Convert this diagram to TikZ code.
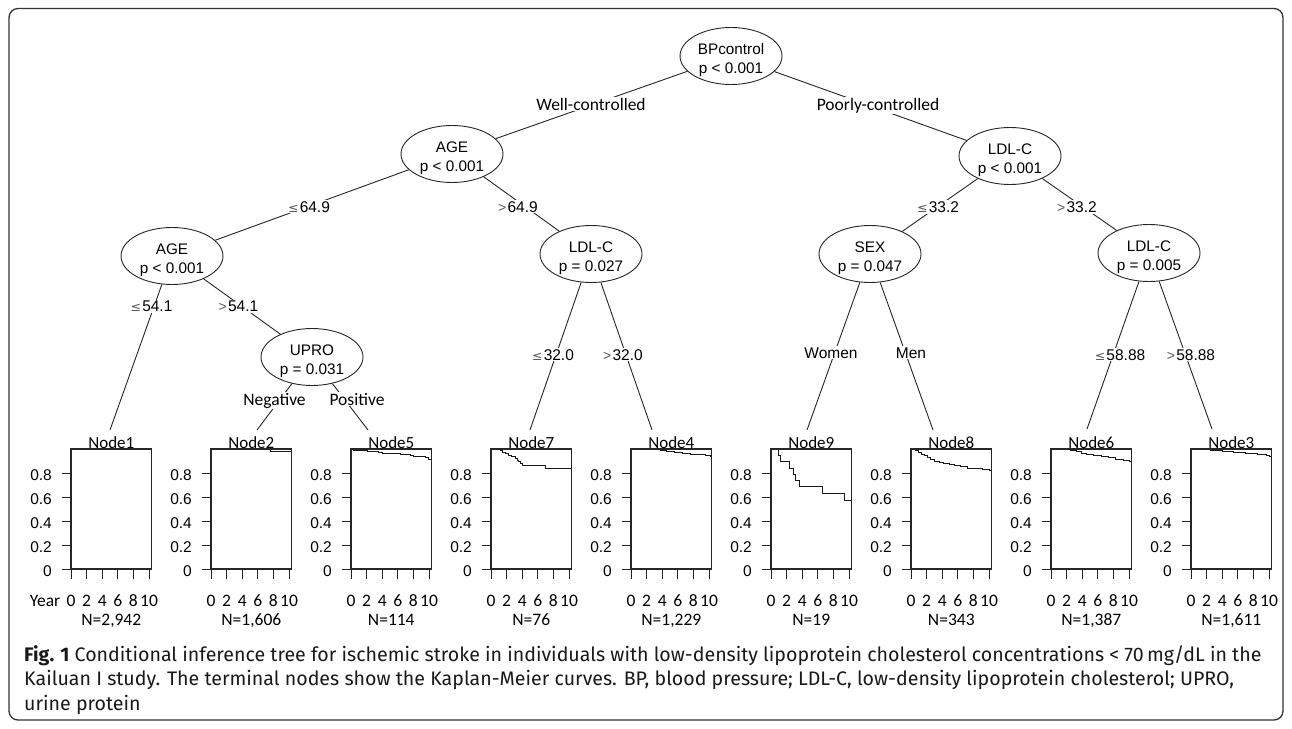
\documentclass[tikz,border=0pt]{standalone}
\usepackage{fontspec}
\setmainfont{Liberation Sans}
\newfontfamily\calfont{Carlito}
\newfontfamily\capfont{Fira Sans}
\newfontfamily\symfont{DejaVu Sans}
\usetikzlibrary{shapes.geometric}

\newcommand{\lesym}{{\color{black!65}\symfont\fontsize{12.5}{12.5}\selectfont ≤}\kern1.2pt}
\newcommand{\gtsym}{{\color{black!65}\fontsize{14}{14}\selectfont >}\kern1.2pt}

\tikzset{
  ln/.style={draw=black!85, line width=0.9pt},
  split/.style={ellipse, ln, minimum width=102pt, minimum height=57pt, inner sep=0pt},
  stext/.style={align=center, inner sep=0pt, font=\fontsize{15.3}{19}\selectfont},
  edge/.style={ln},
  alab/.style={fill=white, inner sep=1.2pt, anchor=base, font=\fontsize{15.5}{18}\selectfont},
  clab/.style={fill=white, inner sep=1.2pt, anchor=base, font=\calfont\fontsize{17.5}{20}\selectfont},
  kmbox/.style={draw=black!85, line width=1.1pt},
  kmtick/.style={draw=black!85, line width=0.9pt},
  kmcurve/.style={draw=black!90, line width=0.9pt},
  ylab/.style={anchor=east, inner sep=0pt, xshift=-19pt, yshift=-2.5pt, font=\fontsize{15.5}{18}\selectfont},
  xlab/.style={anchor=base, inner sep=0pt, yshift=-37.7pt, font=\calfont\fontsize{17.5}{20}\selectfont},
  ntitle/.style={anchor=base, inner sep=0pt, yshift=1pt, font=\calfont\fontsize{17}{20}\selectfont},
  nlab/.style={anchor=base, inner sep=0pt, yshift=-56pt, font=\calfont\fontsize{17.5}{20}\selectfont},
  captxt/.style={anchor=base west, inner sep=0pt, font=\capfont\fontsize{19.6}{24}\selectfont, text=black!90},
}

\newcommand{\kmpanel}[4]{%
  \begin{scope}[xshift=#1pt, yshift=-569pt, x=7.8pt, y=120pt]
    \draw[kmcurve] plot[const plot] coordinates {#4};
    \draw[kmbox] (0,0) rectangle (10.33,1);
    \foreach \sv [count=\iv] in {0,0.2,0.4,0.6,0.8}{%
      \draw[kmtick] (0,\sv) -- ++(-9pt,0pt);
      \node[ylab] (y#2-\iv) at (0,\sv) {\sv};}
    \foreach \tv in {0,2,4,6,8,10}{%
      \draw[kmtick] (\tv,0) -- ++(0pt,-10pt);
      \node[xlab] (x#2-\tv) at (\tv,0) {\tv};}
    \node[ntitle] (Node#2) at (5.165,1) {Node#2};
    \node[nlab] (n#2) at (5.165,0) {N=#3};
  \end{scope}}

\begin{document}
\begin{tikzpicture}[x=1pt,y=-1pt]
\useasboundingbox (0,0) rectangle (1292,728);
\fill[white] (0,0) rectangle (1292,728);
\draw[draw=black!80, line width=1.3pt, rounded corners=9pt] (9,8.5) rectangle (1283,720);

% split nodes
\node[split] (bp)   at (731,56)  {};
\node[split] (age1) at (452,154) {};
\node[split] (ldl1) at (1010,156) {};
\node[split] (age2) at (172,256) {};
\node[split] (ldl2) at (591,254) {};
\node[split] (sex)  at (870,254) {};
\node[split] (ldl3) at (1149,253) {};
\node[split] (upro) at (312,357) {};

\node[stext] (bpt)   at (731,60)  {BPcontrol\\p < 0.001};
\node[stext] (age1t) at (452,158) {AGE\\p < 0.001};
\node[stext] (ldl1t) at (1010,160) {LDL-C\\p < 0.001};
\node[stext] (age2t) at (172,260) {AGE\\p < 0.001};
\node[stext] (ldl2t) at (591,258) {LDL-C\\p = 0.027};
\node[stext] (sext)  at (870,258) {SEX\\p = 0.047};
\node[stext] (ldl3t) at (1149,257) {LDL-C\\p = 0.005};
\node[stext] (uprot) at (312,361) {UPRO\\p = 0.031};

% terminal attachment points
\coordinate (t1) at (110,430);
\coordinate (t2) at (257,430);
\coordinate (t5) at (368,430);
\coordinate (t7) at (530,430);
\coordinate (t4) at (652,430);
\coordinate (t9) at (807,430);
\coordinate (t8) at (933,430);
\coordinate (t6) at (1087,429);
\coordinate (t3) at (1212,429);

% edges
\draw[edge] (bp) -- (age1);
\draw[edge] (bp) -- (ldl1);
\draw[edge] (age1) -- (age2);
\draw[edge] (age1) -- (ldl2);
\draw[edge] (ldl1) -- (sex);
\draw[edge] (ldl1) -- (ldl3);
\draw[edge] (age2) -- (t1);
\draw[edge] (age2) -- (upro);
\draw[edge] (upro) -- (t2);
\draw[edge] (upro) -- (t5);
\draw[edge] (ldl2) -- (t7);
\draw[edge] (ldl2) -- (t4);
\draw[edge] (sex) -- (t9);
\draw[edge] (sex) -- (t8);
\draw[edge] (ldl3) -- (t6);
\draw[edge] (ldl3) -- (t3);

% edge labels
\node[clab] (wc) at (591,110) {Well-controlled};
\node[clab] (pc) at (878,110) {Poorly-controlled};
\node[alab] (l1) at (309,212) {\lesym 64.9};
\node[alab] (l2) at (518,212) {\gtsym 64.9};
\node[alab] (l3) at (938,212.5) {\lesym 33.2};
\node[alab] (l4) at (1077,212.5) {\gtsym 33.2};
\node[alab] (l5) at (151.5,311.5) {\lesym 54.1};
\node[alab] (l6) at (238.5,311.5) {\gtsym 54.1};
\node[clab] (l7) at (274.5,405) {Negative};
\node[clab] (l8) at (357,405) {Positive};
\node[alab] (l9) at (553,360) {\lesym 32.0};
\node[alab] (l10) at (623,360) {\gtsym 32.0};
\node[alab] (l11) at (831,358) {Women};
\node[alab] (l12) at (911,358) {Men};
\node[alab] (l13) at (1120,360) {\lesym 58.88};
\node[alab] (l14) at (1191,360) {\gtsym 58.88};

% terminal Kaplan-Meier panels
\kmpanel{71}{1}{2,942}{(0,1) (10.3,0.982) (10.33,0.982)}
\kmpanel{211}{2}{1,606}{(0,1) (3.9,0.994) (7.6,0.982) (10.3,0.967) (10.33,0.967)}
\kmpanel{351}{5}{114}{(0,1) (0.3,0.992) (2.05,0.983) (3.55,0.972) (3.97,0.964) (6.28,0.956) (7.56,0.948) (7.95,0.939) (9.49,0.931) (9.96,0.917) (10.33,0.917)}
\kmpanel{491}{7}{76}{(0,1) (1.2,0.985) (1.45,0.974) (1.85,0.962) (2.2,0.95) (2.6,0.936) (3.1,0.922) (3.35,0.908) (3.55,0.894) (3.8,0.881) (4.0,0.867) (7.0,0.84) (10.33,0.84)}
\kmpanel{631}{4}{1,229}{(0,1) (2.1,0.996) (3.8,0.985) (4.6,0.978) (5.6,0.972) (6.6,0.965) (7.6,0.958) (8.6,0.952) (9.5,0.946) (10.2,0.94) (10.33,0.94)}
\kmpanel{771}{9}{19}{(0,1) (0.96,0.947) (1.22,0.895) (2.35,0.842) (2.91,0.789) (3.12,0.737) (3.69,0.684) (6.63,0.632) (9.45,0.575) (10.33,0.575)}
\kmpanel{911}{8}{343}{(0,1) (0.3,0.993) (0.6,0.985) (0.9,0.975) (1.3,0.958) (1.7,0.944) (2.1,0.93) (2.5,0.915) (3.0,0.9) (3.6,0.889) (4.2,0.88) (4.9,0.871) (5.6,0.862) (6.4,0.852) (7.2,0.842) (8.2,0.836) (9.2,0.83) (10.1,0.821) (10.33,0.821)}
\kmpanel{1051}{6}{1,387}{(0,1) (1.4,0.993) (2.5,0.984) (3.2,0.976) (3.9,0.966) (4.6,0.957) (5.5,0.947) (6.5,0.937) (7.3,0.926) (8.2,0.916) (9.3,0.908) (10.1,0.9) (10.33,0.9)}
\kmpanel{1191}{3}{1,611}{(0,1) (1.2,0.994) (2.5,0.984) (4.0,0.976) (5.5,0.969) (7.0,0.962) (8.5,0.955) (9.7,0.949) (10.1,0.942) (10.25,0.932) (10.33,0.932)}

\node[xlab] (year) at (45,569) {Year};

% caption
\node[captxt] (cap1) at (24,661) {\textbf{Fig. 1} Conditional inference tree for ischemic stroke in individuals with low-density lipoprotein cholesterol concentrations < 70\,mg/dL in the};
\node[captxt] (cap2) at (24,685.5) {Kailuan I study. The terminal nodes show the Kaplan-Meier curves. BP, blood pressure; LDL-C, low-density lipoprotein cholesterol; UPRO,};
\node[captxt] (cap3) at (24,710) {urine protein};
\end{tikzpicture}
\end{document}
